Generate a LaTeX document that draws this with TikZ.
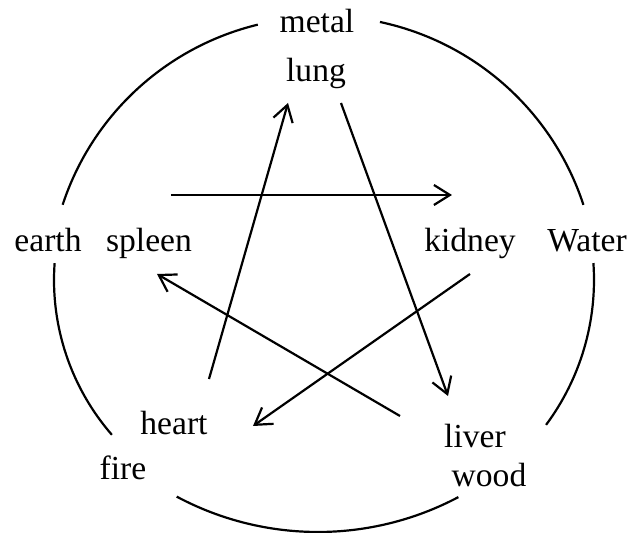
\documentclass[tikz,border=0pt]{standalone}
\usepackage{fontspec}
\setmainfont{Liberation Serif}
\usetikzlibrary{arrows.meta}
\begin{document}
\begin{tikzpicture}[x=0.5pt,y=0.5pt,
  lbl/.style={anchor=base,inner sep=0pt,font=\fontsize{16.8}{20}\selectfont},
  ring/.style={line width=1.1pt,black},
  link/.style={line width=1.1pt,black,-{Straight Barb[length=8pt,width=10pt,line width=1.1pt]}}]
\useasboundingbox (0,0) rectangle (629,-533);
% labels
\node[lbl] (metal) at (317,-33) {metal};
\node[lbl] (lung) at (316,-82) {lung};
\node[lbl] (earth) at (48,-252) {earth};
\node[lbl] (spleen) at (149,-252) {spleen};
\node[lbl] (kidney) at (470,-252) {kidney};
\node[lbl] (water) at (587,-252) {Water};
\node[lbl] (heart) at (174,-435) {heart};
\node[lbl] (fire) at (123,-480) {fire};
\node[lbl] (liver) at (475,-448) {liver};
\node[lbl] (wood) at (489,-487) {wood};
% ring arcs
\draw[ring] (322,-290) ++(103.6:136.5pt) arc[start angle=103.6,end angle=161.8,radius=136.5pt];
\draw[ring] (323,-290) ++(78.0:137pt) arc[start angle=78.0,end angle=18.1,radius=137pt];
\draw[ring] (290,-280) ++(175.9:118pt) arc[start angle=175.9,end angle=221.0,radius=118pt];
\draw[ring] (351,-280) ++(4.0:121.5pt) arc[start angle=4.0,end angle=-36.6,radius=121.5pt];
\draw[ring] (318,-232) ++(241.9:150pt) arc[start angle=241.9,end angle=297.9,radius=150pt];
% arrow end points
\coordinate (spleenOut) at (171,-195);
\coordinate (kidneyIn) at (452,-195);
\coordinate (kidneyOut) at (470,-274);
\coordinate (heartIn) at (253,-426);
\coordinate (heartOut) at (209,-379);
\coordinate (lungIn) at (288,-103);
\coordinate (lungOut) at (341,-103);
\coordinate (liverIn) at (448,-396);
\coordinate (liverOut) at (400,-416);
\coordinate (spleenIn) at (157,-274);
% arrows
\draw[link] (spleenOut) -- (kidneyIn);
\draw[link] (kidneyOut) -- (heartIn);
\draw[link] (heartOut) -- (lungIn);
\draw[link] (lungOut) -- (liverIn);
\draw[link] (liverOut) -- (spleenIn);
\end{tikzpicture}
\end{document}
